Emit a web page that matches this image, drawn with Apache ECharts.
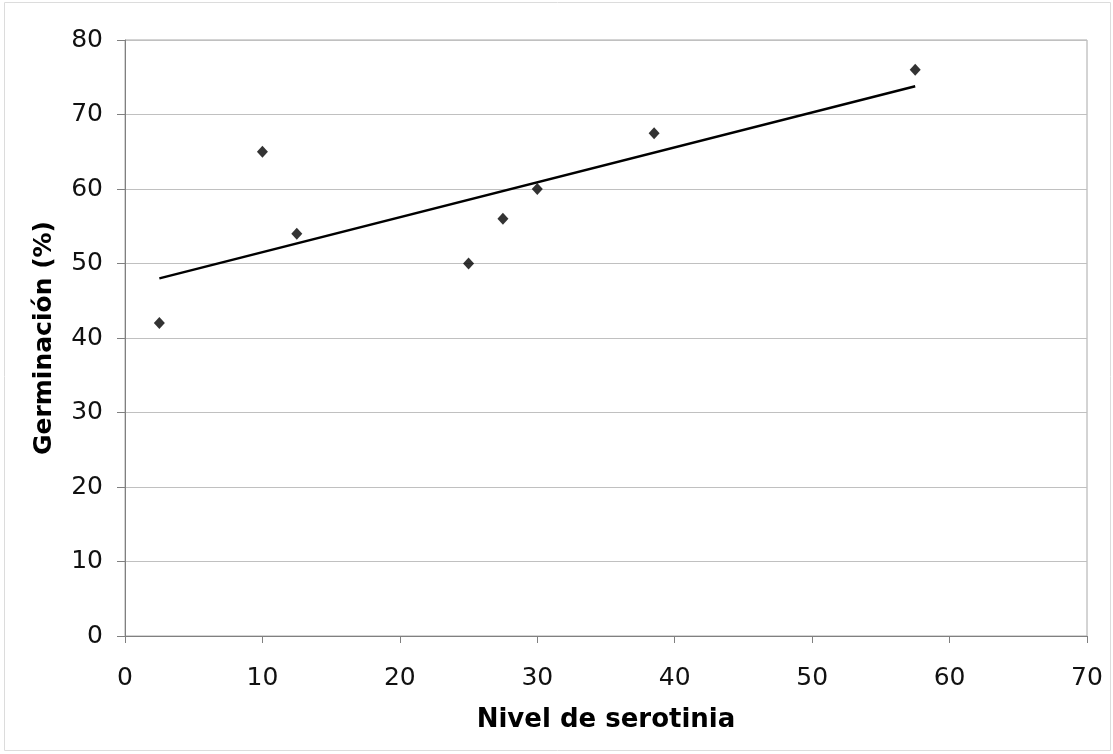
<!DOCTYPE html>
<html>
<head>
<meta charset="utf-8">
<script src="https://cdn.jsdelivr.net/npm/echarts@6/dist/echarts.min.js"></script>
<style>
html, body { margin: 0; padding: 0; background: #fff; }
#chart { width: 1113px; height: 754px; }
</style>
</head>
<body>
<div id="chart"></div>
<script>
// nivel de serotinia vs germinación (%)
var serotinia = [2.5, 10, 12.5, 25, 27.5, 30, 38.5, 57.5];
var germinacion = [42, 65, 54, 50, 56, 60, 67.5, 76];
// linea de tendencia (extremos)
var trendX = [2.5, 57.5];
var trendY = [48, 73.8];

var puntos = serotinia.map(function (x, i) { return [x, germinacion[i]]; });
var tendencia = trendX.map(function (x, i) { return [x, trendY[i]]; });

var myChart = echarts.init(document.getElementById('chart'));
var option = {
	animation: false,
	textStyle: { fontFamily: 'DejaVu Sans' },
	graphic: [{
		type: 'rect',
		shape: { x: 4.5, y: 2.5, width: 1106, height: 748 },
		style: { fill: 'none', stroke: '#dcdcdc', lineWidth: 1 }
	}, {
		type: 'rect',
		shape: { x: 125, y: 40, width: 962, height: 596 },
		style: { fill: 'none', stroke: '#a8a8a8', lineWidth: 1 },
		z: 0
	}],
	grid: {
		left: 125,
		right: 26,
		top: 40,
		bottom: 118,
		containLabel: false
	},
	xAxis: {
		type: 'value',
		min: 0,
		max: 70,
		interval: 10,
		name: 'Nivel de serotinia',
		nameLocation: 'middle',
		nameGap: 71,
		nameTextStyle: { color: '#000', fontSize: 26, fontWeight: 'bold', fontFamily: 'DejaVu Sans' },
		axisLine: { show: true, onZero: false, lineStyle: { color: '#808080', width: 1 } },
		axisTick: { show: true, inside: false, length: 7, lineStyle: { color: '#808080' } },
		axisLabel: { color: '#111', fontSize: 25, margin: 30 },
		splitLine: { show: false }
	},
	yAxis: {
		type: 'value',
		min: 0,
		max: 80,
		interval: 10,
		name: 'Germinación (%)',
		nameLocation: 'middle',
		nameGap: 68,
		nameRotate: 90,
		nameTextStyle: { color: '#000', fontSize: 25, fontWeight: 'bold', fontFamily: 'DejaVu Sans' },
		axisLine: { show: true, onZero: false, lineStyle: { color: '#808080', width: 1 } },
		axisTick: { show: true, inside: false, length: 8, lineStyle: { color: '#808080' } },
		axisLabel: { color: '#111', fontSize: 25, margin: 22 },
		splitLine: { show: true, lineStyle: { color: '#c0c0c0', width: 1 } }
	},
	series: [{
		type: 'line',
		data: tendencia,
		symbol: 'none',
		lineStyle: { color: '#000', width: 2.5 },
		z: 2
	}, {
		type: 'scatter',
		data: puntos,
		symbol: 'diamond',
		symbolSize: [11, 12],
		itemStyle: { color: '#000' },
		z: 3
	}]
};
myChart.setOption(option);
</script>
</body>
</html>
